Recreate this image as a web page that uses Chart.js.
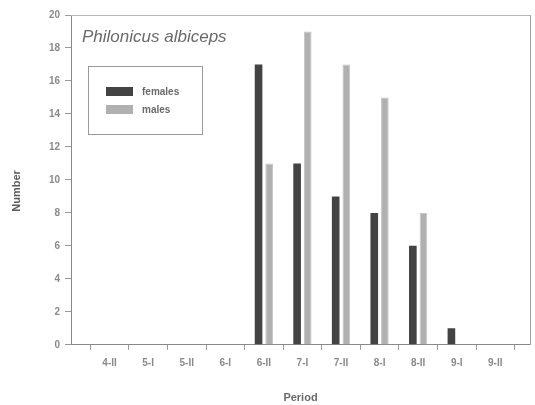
<!DOCTYPE html>
<html>
<head>
<meta charset="utf-8">
<script src="https://cdn.jsdelivr.net/npm/chart.js@4/dist/chart.umd.min.js"></script>
<style>
html,body{margin:0;padding:0;background:#fff;}
#wrap{position:relative;width:535px;height:405px;}
</style>
</head>
<body>
<div id="wrap"><canvas id="c" width="535" height="405"></canvas></div>
<script>
const categories = ['4-II','5-I','5-II','6-I','6-II','7-I','7-II','8-I','8-II','9-I','9-II'];
const females = [0,0,0,0,17,11,9,8,6,1,0];
const males   = [0,0,0,0,11,19,17,15,8,0,0];
const yTicks = [0,2,4,6,8,10,12,14,16,18,20];
const seriesNames = ['females','males'];
const chartTitle = 'Philonicus albiceps';
const xTitle = 'Period';
const yTitle = 'Number';

const FONT = "'Liberation Sans', Arial, sans-serif";
const femColor = '#434343';
const malColor = '#b0b0b0';

function toPoints(arr){ return arr.map((v,i)=>({x:i+1,y:v})); }

const overlay = {
  id:'overlay',
  afterDraw(chart){
    const ctx = chart.ctx, ca = chart.chartArea;
    ctx.save();
    // y axis title
    ctx.save();
    ctx.translate(17, 191);
    ctx.rotate(-Math.PI/2);
    ctx.fillStyle = '#5a5a5a';
    ctx.font = "bold 11px " + FONT;
    ctx.textAlign = 'center';
    ctx.textBaseline = 'middle';
    ctx.fillText(yTitle, 0, 0);
    ctx.restore();
    // title inside plot
    ctx.fillStyle = '#6a6a6a';
    ctx.font = "italic 17px " + FONT;
    ctx.textBaseline = 'middle';
    ctx.fillText(chartTitle, ca.left + 11, ca.top + 22);
    // legend box
    const bx = ca.left + 17, by = ca.top + 51, bw = 114, bh = 68;
    ctx.strokeStyle = '#9a9a9a';
    ctx.lineWidth = 1;
    ctx.strokeRect(bx + 0.5, by + 0.5, bw, bh);
    const cols = [femColor, malColor];
    ctx.font = "bold 10px " + FONT;
    seriesNames.forEach((n,i)=>{
      const sy = by + 21 + i*18;
      ctx.fillStyle = cols[i];
      ctx.fillRect(bx + 18, sy, 27, 9);
      ctx.fillStyle = '#6a6a6a';
      ctx.fillText(n, bx + 54, sy + 5);
    });
    ctx.restore();
  }
};

new Chart(document.getElementById('c'), {
  type:'bar',
  data:{
    datasets:[
      {label:seriesNames[0], data:toPoints(females), backgroundColor:femColor, borderWidth:0},
      {label:seriesNames[1], data:toPoints(males), backgroundColor:malColor, borderColor:'#c4c4c4', borderWidth:1}
    ]
  },
  options:{
    responsive:false,
    animation:false,
    events:[],
    categoryPercentage:0.55,
    barPercentage:0.72,
    layout:{padding:{left:0,top:15,right:5,bottom:0}},
    plugins:{legend:{display:false}, tooltip:{enabled:false}},
    scales:{
      x:{
        type:'linear', position:'bottom', min:0, max:11.9,
        offset:false,
        ticks:{stepSize:1, includeBounds:false, autoSkip:false, maxRotation:0,
          color:'#8a8a8a', font:{family:FONT, size:10, weight:'bold'}, padding:7,
          callback:(v)=> (Number.isInteger(v) && v>=1 && v<=categories.length) ? categories[v-1] : ''},
        afterBuildTicks:(s)=>{ s.ticks = s.ticks.filter(t=>t.value>=1 && t.value<=categories.length); },
        grid:{display:true, drawOnChartArea:false, drawTicks:true, tickLength:5, color:'#9a9a9a'},
        border:{display:true, color:'#8a8a8a', width:1},
        title:{display:true, text:xTitle, color:'#6a6a6a', font:{family:FONT, size:11, weight:'bold'}, padding:{top:16,bottom:0}}
      },
      y:{
        min:0, max:20,
        afterBuildTicks:(s)=>{ s.ticks = yTicks.map(v=>({value:v})); },
        ticks:{color:'#8a8a8a', font:{family:FONT, size:10, weight:'bold'}, padding:5},
        grid:{display:true, drawOnChartArea:false, drawTicks:true, tickLength:6, color:'#9a9a9a'},
        border:{display:true, color:'#8a8a8a', width:1},
        afterFit:(s)=>{ s.width = 71; }
      },
      xTop:{
        type:'linear', position:'top', min:0, max:1, display:true,
        ticks:{display:false}, grid:{display:false, drawTicks:false},
        border:{display:true, color:'#b5b5b5', width:1, dash:[14,3]}
      },
      yRight:{
        type:'linear', position:'right', min:0, max:1, display:true,
        ticks:{display:false}, grid:{display:false, drawTicks:false},
        border:{display:true, color:'#a5a5a5', width:1}
      }
    }
  },
  plugins:[overlay]
});
</script>
</body>
</html>
